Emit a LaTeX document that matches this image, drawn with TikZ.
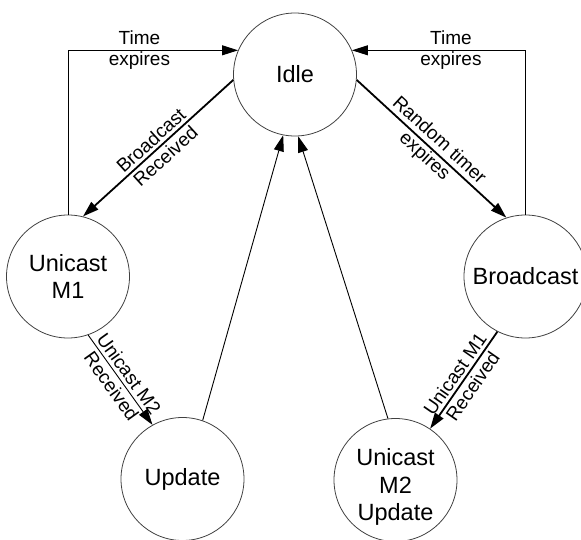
\documentclass[tikz,border=0pt]{standalone}
\usepackage{fontspec}
\setmainfont{Liberation Sans}
\usetikzlibrary{arrows.meta}
\begin{document}
\begin{tikzpicture}[x=1pt,y=-1pt,
  state/.style={circle,draw=black!75,line width=0.8pt,minimum size=123pt,inner sep=0pt,align=center,font=\fontsize{23.5}{27.5}\selectfont},
  statetext/.style={inner sep=0pt,align=center,font=\fontsize{23.5}{27.5}\selectfont},
  thinarrow/.style={line width=0.9pt,-{Triangle[length=16pt,width=10pt]}},
  boldarrow/.style={line width=1.8pt,-{Triangle[length=16pt,width=10pt]}},
  lbl/.style={align=center,inner sep=1pt,font=\fontsize{19}{21.5}\selectfont}]
\useasboundingbox (0,0) rectangle (581,540);
\node[state] (idle) at (295,74.5) {Idle};
\node[state] (m1) at (68,276.5) {Unicast\\M1};
\node[state] (bc) at (525.5,276.5) {Broadcast};
\node[state] (up) at (182.5,479) {Update};
\node[state] (um) at (395.5,480) {};
\node[statetext] (umtext) at (395.5,487) {Unicast\\M2\\Update};

\draw[thinarrow] (m1.north) |- node[lbl,pos=0.71] {Time\\expires} (idle.157);
\draw[thinarrow] (bc.north) |- node[lbl,pos=0.715] {Time\\expires} (idle.23);
\draw[boldarrow] (idle.185) -- node[lbl,sloped] {Broadcast\\Received} (m1.76);
\draw[boldarrow] (idle.-5) -- node[lbl,sloped] {Random timer\\expires} (bc.108);
\draw[thinarrow] (m1.-71) -- node[lbl,sloped] {Unicast M2\\Received} (up.119);
\draw[boldarrow] (bc.243) -- node[lbl,sloped] {Unicast M1\\Received} (um.56);
\draw[thinarrow] (up.71) -- (idle.259);
\draw[thinarrow] (um.97) -- (idle.273);
\end{tikzpicture}
\end{document}
